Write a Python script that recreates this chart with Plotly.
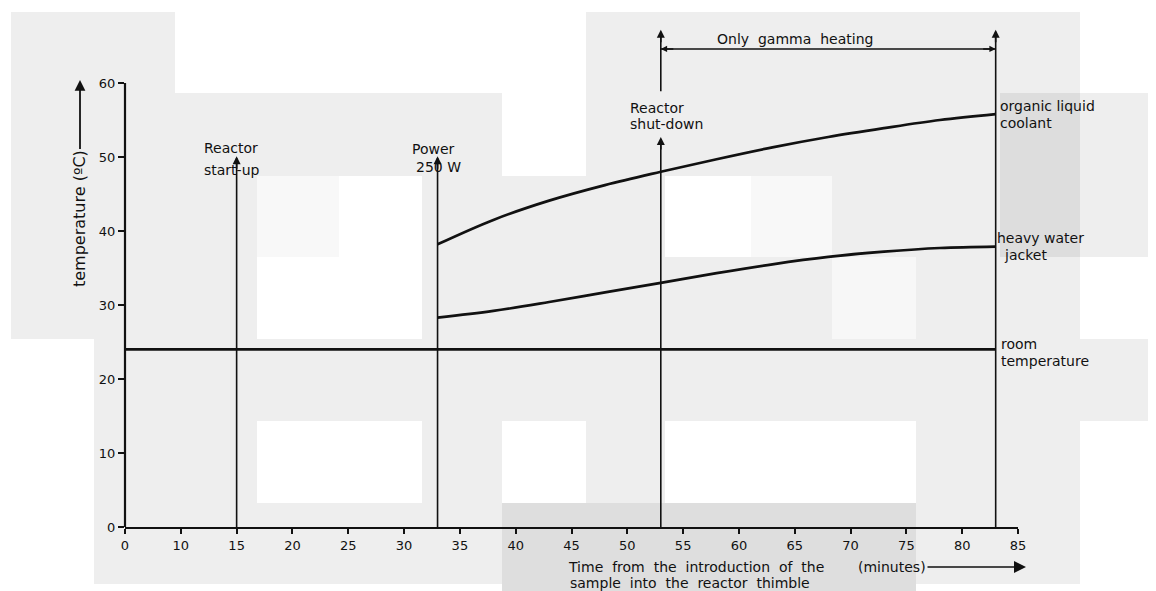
import plotly.graph_objects as go

# ---------------- data (minutes, degrees C) ----------------
tick_minutes = [0, 10, 15, 20, 25, 30, 35, 40, 45, 50, 55, 60, 65, 70, 75, 80, 85]
y_ticks = [0, 10, 20, 30, 40, 50, 60]

room_time = [0, 83]
room_temp = [24, 24]

curve_time = [33, 38, 43, 48, 53, 58, 63, 68, 73, 78, 83]
organic_temp = [38.2, 41.5, 44.1, 46.2, 48.0, 49.7, 51.3, 52.7, 53.9, 55.0, 55.8]
heavy_temp = [28.3, 29.2, 30.4, 31.7, 33.0, 34.3, 35.5, 36.5, 37.2, 37.7, 37.9]

event_time = [15, 33, 53, 83]          # start-up, power 250 W, shut-down, end
event_top = [50.1, 50.1, 52.7, 67.2]   # arrow tips (deg C scale)
shutdown_upper = [58.9, 67.2]          # second arrow above "Reactor shut-down"
gamma_span = [53, 83]
gamma_level = 64.6


# axis has a break: 0 -> 10 occupies one 5-minute interval
def pos(t):
    return t / 2 if t <= 10 else t - 5


tick_pos = [pos(t) for t in tick_minutes]

# ---------------- geometry helpers (page pixels -> paper) ----------------
OFF = 8                       # page body margin around the figure
PAGE_W, PAGE_H = 1156, 591
W, H = PAGE_W - OFF, PAGE_H - OFF
L, R, B, T = 125, 1018, 527, 9   # plot area in page pixels
YMAX = 70


def xp(px):
    return (px - L) / (R - L)


def yp(py):
    return (B - py) / (B - T)


FONT = "DejaVu Sans"
INK = "#111111"
GRAY = "#eeeeee"
FS = 14

fig = go.Figure()

# curves
fig.add_trace(go.Scatter(x=[pos(t) for t in room_time], y=room_temp, mode="lines",
                         line=dict(color=INK, width=2.7), hoverinfo="skip"))
fig.add_trace(go.Scatter(x=[pos(t) for t in curve_time], y=organic_temp, mode="lines",
                         line=dict(color=INK, width=2.7, shape="spline"), hoverinfo="skip"))
fig.add_trace(go.Scatter(x=[pos(t) for t in curve_time], y=heavy_temp, mode="lines",
                         line=dict(color=INK, width=2.7, shape="spline"), hoverinfo="skip"))

# vertical event lines
for t, top in zip(event_time, event_top):
    fig.add_trace(go.Scatter(x=[pos(t), pos(t)], y=[0, top - 0.3], mode="lines",
                             line=dict(color=INK, width=1.6), hoverinfo="skip"))
fig.add_trace(go.Scatter(x=[pos(53), pos(53)], y=[shutdown_upper[0], shutdown_upper[1] - 0.3],
                         mode="lines", line=dict(color=INK, width=1.6), hoverinfo="skip"))
# gamma heating span
fig.add_trace(go.Scatter(x=[pos(gamma_span[0]), pos(gamma_span[1])], y=[gamma_level, gamma_level],
                         mode="lines", line=dict(color=INK, width=1.4), hoverinfo="skip"))

ann = []
# arrowheads on vertical lines
for t, top in zip(event_time + [53], event_top + [shutdown_upper[1]]):
    ann.append(dict(x=pos(t), y=top, xref="x", yref="y", ax=0, ay=14, text="",
                    showarrow=True, arrowhead=2, arrowsize=1.0, arrowwidth=1.6, arrowcolor=INK))
# gamma span arrowheads
ann.append(dict(x=pos(gamma_span[1]), y=gamma_level, xref="x", yref="y", ax=-14, ay=0, text="",
                showarrow=True, arrowhead=2, arrowsize=0.9, arrowwidth=1.4, arrowcolor=INK))
ann.append(dict(x=pos(gamma_span[0]), y=gamma_level, xref="x", yref="y", ax=14, ay=0, text="",
                showarrow=True, arrowhead=2, arrowsize=0.9, arrowwidth=1.4, arrowcolor=INK))


def label(text, px, py, anchor="left", size=FS, angle=0):
    ann.append(dict(x=xp(px), y=yp(py), xref="paper", yref="paper", text=text, showarrow=False,
                    xanchor=anchor, yanchor="middle", textangle=angle,
                    font=dict(family=FONT, size=size, color=INK)))


label("Reactor", 231, 148, "center")
label("start-up", 232, 170, "center")
label("Power", 433, 149, "center")
label("250 W", 438, 167, "center")
label("Reactor", 628, 108)
label("shut-down", 628, 124)
label("Only  gamma  heating", 795, 39, "center")
label("organic liquid", 998, 106)
label("coolant", 998, 123)
label("heavy water", 995, 238)
label("jacket", 1002, 255)
label("room", 999, 344)
label("temperature", 999, 361)
label("Time  from  the  introduction  of  the", 566, 567)
label("sample  into  the  reactor  thimble", 568, 583)

# (minutes) with arrow
ann.append(dict(x=xp(1026), y=yp(567), xref="paper", yref="paper", ax=-134, ay=0,
                text="(minutes)", showarrow=True, arrowhead=2, arrowsize=1.5, arrowwidth=1.6,
                arrowcolor=INK, font=dict(family=FONT, size=FS, color=INK)))
# y title with arrow
ann.append(dict(x=xp(80), y=yp(80), xref="paper", yref="paper", ax=0, ay=139,
                text="temperature (ºC)", textangle=-90, showarrow=True, arrowhead=2,
                arrowsize=1.2, arrowwidth=1.8, arrowcolor=INK,
                font=dict(family=FONT, size=16, color=INK)))

# ---------------- scanned-paper background patches (page pixels) ----------------
patches = [
    (11, 12, 1080, 584, GRAY),
    (175, 0, 586, 93, "white"),
    (502, 93, 586, 176, "white"),
    (257, 176, 422, 339, "white"),
    (257, 176, 339, 257, "#f8f8f8"),
    (0, 339, 94, 591, "white"),
    (257, 421, 422, 503, "white"),
    (502, 421, 586, 503, "white"),
    (665, 421, 916, 503, "white"),
    (665, 176, 751, 257, "white"),
    (751, 176, 832, 257, "#f8f8f8"),
    (832, 257, 916, 339, "#f7f7f7"),
    (502, 503, 916, 591, "#dedede"),
    (1000, 93, 1080, 257, "#dddddd"),
    (1080, 93, 1156, 257, GRAY),
    (1080, 339, 1156, 421, GRAY),
]
shapes = []
for x0, y0, x1, y1, c in patches:
    shapes.append(dict(type="rect", xref="paper", yref="paper", x0=xp(x0), x1=xp(x1),
                       y0=yp(y0), y1=yp(y1), fillcolor=c, line=dict(width=0), layer="below"))
# y axis line (0..60 only)
shapes.append(dict(type="line", xref="paper", yref="y", x0=0, x1=0, y0=0, y1=60,
                   line=dict(color=INK, width=2.2), layer="above"))

fig.update_layout(
    width=W, height=H,
    margin=dict(l=L - OFF, r=PAGE_W - R, t=T - OFF, b=PAGE_H - B, pad=0),
    paper_bgcolor="white",
    plot_bgcolor="rgba(0,0,0,0)",
    showlegend=False,
    annotations=ann,
    shapes=shapes,
    font=dict(family=FONT, size=FS, color=INK),
    xaxis=dict(range=[0, 80], tickmode="array", tickvals=tick_pos,
               ticktext=[str(t) for t in tick_minutes],
               showline=True, linecolor=INK, linewidth=2.2, ticks="outside", ticklen=5,
               tickwidth=1.5, tickcolor=INK, showgrid=False, zeroline=False,
               tickfont=dict(family=FONT, size=13, color=INK)),
    yaxis=dict(range=[0, YMAX], tickmode="array", tickvals=y_ticks,
               showline=False, ticks="outside", ticklen=6, tickwidth=1.5, tickcolor=INK,
               showgrid=False, zeroline=False,
               tickfont=dict(family=FONT, size=13, color=INK)),
)

fig.write_html("out.html")
